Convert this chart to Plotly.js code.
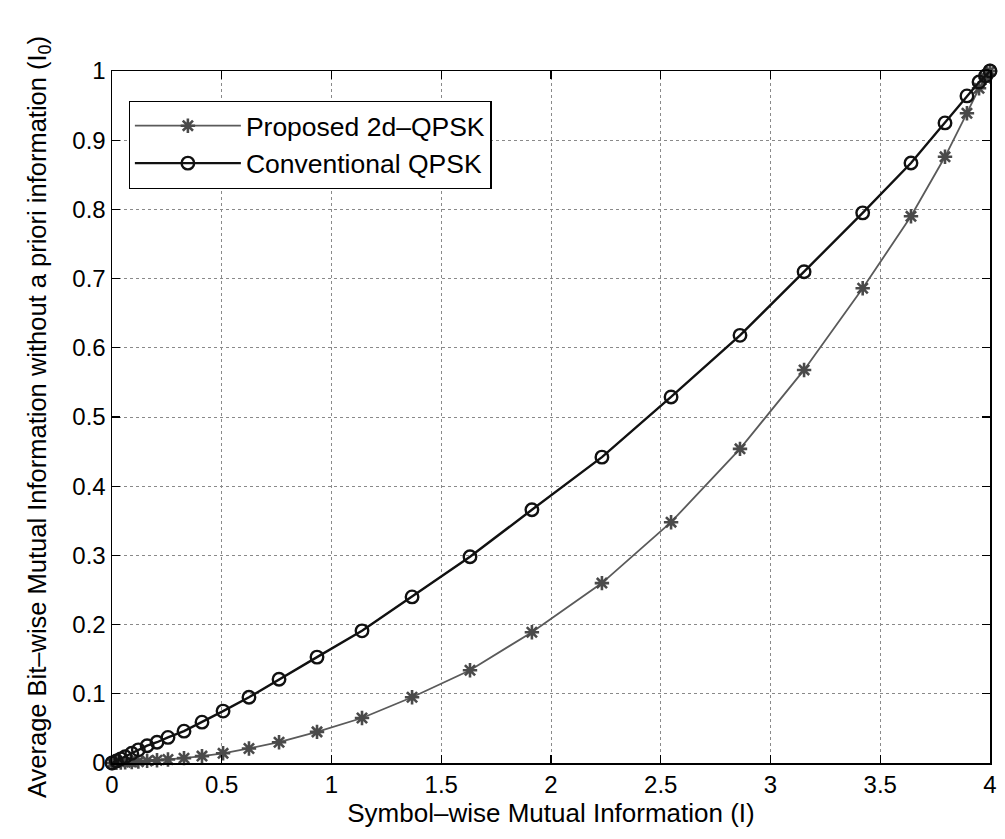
<!DOCTYPE html>
<html>
<head>
<meta charset="utf-8">
<script src="https://cdn.plot.ly/plotly-3.0.1.min.js"></script>
<style>html,body{margin:0;padding:0;background:#fff;}#chart{width:1005px;height:839px;}</style>
</head>
<body>
<div id="chart"></div>
<script>
const symbolMI = [0, 0.02, 0.04, 0.06, 0.09, 0.12, 0.16, 0.205, 0.255, 0.328, 0.41, 0.506, 0.624, 0.761, 0.934, 1.139, 1.367, 1.631, 1.913, 2.232, 2.547, 2.861, 3.153, 3.42, 3.64, 3.795, 3.895, 3.95, 3.98, 4.0];
const conventionalQPSK = [0, 0.003, 0.006, 0.009, 0.014, 0.019, 0.025, 0.030, 0.037, 0.046, 0.059, 0.075, 0.095, 0.121, 0.153, 0.191, 0.240, 0.298, 0.366, 0.442, 0.529, 0.618, 0.710, 0.795, 0.867, 0.925, 0.964, 0.984, 0.993, 1.0];
const proposed2dQPSK = [0, 0.0002, 0.0005, 0.001, 0.0015, 0.002, 0.003, 0.004, 0.005, 0.007, 0.010, 0.014, 0.021, 0.030, 0.045, 0.065, 0.095, 0.134, 0.189, 0.260, 0.348, 0.454, 0.568, 0.686, 0.790, 0.876, 0.939, 0.975, 0.99, 1.0];
const seriesNames = ["Proposed 2d\u2013QPSK", "Conventional QPSK"];
const xTitle = "Symbol\u2013wise Mutual Information (I)";
const yTitle = "Average Bit\u2013wise Mutual Information without a priori information (I<sub>0</sub>)";

const font = "Liberation Sans, Arial, Helvetica, sans-serif";
const traces = [
  {
    x: symbolMI, y: proposed2dQPSK, name: seriesNames[0], type: "scatter", mode: "lines+markers",
    line: {color: "#5a5a5a", width: 1.8},
    marker: {symbol: "asterisk-open", size: 12, color: "#4a4a4a", line: {color: "#4a4a4a", width: 2.6}},
    cliponaxis: false
  },
  {
    x: symbolMI, y: conventionalQPSK, name: seriesNames[1], type: "scatter", mode: "lines+markers",
    line: {color: "#111111", width: 2.4},
    marker: {symbol: "circle-open", size: 12.5, color: "#111111", line: {color: "#111111", width: 2.4}},
    cliponaxis: false
  }
];
const axisCommon = {
  showline: true, linecolor: "#000", linewidth: 1.5, mirror: "ticks",
  ticks: "inside", ticklen: 8, tickcolor: "#000", tickwidth: 1.2,
  showgrid: true, gridcolor: "#8a8a8a", griddash: "dot", gridwidth: 1,
  zeroline: false, tickfont: {family: font, size: 24, color: "#000"}
};
const layout = {
  width: 1005, height: 839,
  margin: {l: 112, r: 15, t: 71, b: 76},
  paper_bgcolor: "#fff", plot_bgcolor: "#fff",
  font: {family: font, color: "#000"},
  showlegend: true,
  xaxis: Object.assign({}, axisCommon, {
    range: [0, 4], dtick: 0.5, tick0: 0,
    title: {text: xTitle, font: {family: font, size: 26, color: "#000"}, standoff: 6}
  }),
  yaxis: Object.assign({}, axisCommon, {
    range: [0, 1], dtick: 0.1, tick0: 0,
    title: {text: yTitle, font: {family: font, size: 25.5, color: "#000"}, standoff: 18}
  }),
  legend: {
    x: 0.019, y: 0.957, xanchor: "left", yanchor: "top",
    bgcolor: "#fff", bordercolor: "#000", borderwidth: 1.2,
    font: {family: font, size: 26.5, color: "#000"},
    itemwidth: 106, tracegroupgap: 0
  }
};
Plotly.newPlot("chart", traces, layout, {displayModeBar: false, staticPlot: true});
</script>
</body>
</html>
